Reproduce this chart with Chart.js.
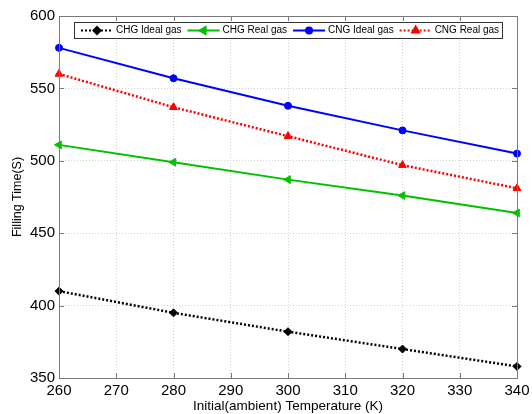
<!DOCTYPE html>
<html>
<head>
<meta charset="utf-8">
<script src="https://cdn.jsdelivr.net/npm/chart.js@4/dist/chart.umd.min.js"></script>
<style>
  html, body { margin: 0; padding: 0; background: #fff; }
  #wrap { width: 532px; height: 414px; }
</style>
</head>
<body>
<div id="wrap"><canvas id="chart" width="532" height="414"></canvas></div>
<script>
(function () {
  'use strict';

  var temps = [260, 280, 300, 320, 340];
  var chgIdeal = [410, 395, 382, 370, 358];
  var chgReal = [511, 499, 487, 476, 464];
  var cngIdeal = [578, 557, 538, 521, 505];
  var cngReal = [560, 537, 517, 497, 481];

  var FONT = 'Liberation Sans, Arial, sans-serif';

  function pts(vals) {
    return vals.map(function (v, i) { return { x: temps[i], y: v }; });
  }

  // boxed legend inside the plot + frame with inward ticks (matlab look)
  var matlabBox = {
    id: 'matlabBox',
    afterDraw: function (chart) {
      var ctx = chart.ctx, a = chart.chartArea;
      var xs = chart.scales.x, ys = chart.scales.y;
      ctx.save();
      ctx.strokeStyle = '#7a7a7a';
      ctx.lineWidth = 1;
      ctx.strokeRect(a.left + 0.5, a.top + 0.5, a.right - a.left, a.bottom - a.top);
      ctx.beginPath();
      xs.ticks.forEach(function (t) {
        var px = Math.round(xs.getPixelForValue(t.value)) + 0.5;
        ctx.moveTo(px, a.bottom); ctx.lineTo(px, a.bottom - 5);
        ctx.moveTo(px, a.top); ctx.lineTo(px, a.top + 5);
      });
      ys.ticks.forEach(function (t) {
        var py = Math.round(ys.getPixelForValue(t.value)) + 0.5;
        ctx.moveTo(a.left, py); ctx.lineTo(a.left + 5, py);
        ctx.moveTo(a.right, py); ctx.lineTo(a.right - 5, py);
      });
      ctx.stroke();

      // legend
      ctx.font = '10px ' + FONT;
      var sets = chart.data.datasets;
      var lineLen = 32, gap = 3, padL = 7, padR = 3, sep = 6;
      var total = padL + padR;
      sets.forEach(function (d, i) {
        total += lineLen + gap + ctx.measureText(d.label).width + (i < sets.length - 1 ? sep : 0);
      });
      total = Math.round(total);
      var bx = Math.round((a.left + a.right) / 2 - total / 2);
      var by = a.top + 6, bh = 16;
      ctx.fillStyle = '#fff';
      ctx.fillRect(bx, by, total, bh);
      ctx.strokeStyle = '#333';
      ctx.strokeRect(bx + 0.5, by + 0.5, total, bh);
      var x = bx + padL, cy = by + bh / 2 + 0.5;
      sets.forEach(function (d) {
        ctx.save();
        ctx.strokeStyle = d.borderColor;
        ctx.lineWidth = d.borderDash ? 2 : d.borderWidth;
        ctx.setLineDash(d.borderDash || []);
        ctx.beginPath();
        ctx.moveTo(x, cy); ctx.lineTo(x + lineLen, cy);
        ctx.stroke();
        ctx.setLineDash([]);
        ctx.fillStyle = d.pointBackgroundColor;
        Chart.helpers.drawPoint(ctx, {
          pointStyle: d.pointStyle,
          radius: d.pointRadius - 0.5,
          rotation: d.pointRotation || 0,
          borderWidth: 1
        }, x + lineLen / 2, cy);
        ctx.restore();
        x += lineLen + gap;
        ctx.fillStyle = '#000';
        ctx.textBaseline = 'middle';
        ctx.fillText(d.label, x, cy);
        x += ctx.measureText(d.label).width + sep;
      });
      ctx.restore();
    }
  };

  var radii = { rectRot: 4, triangle: 4.5, circle: 3.5 };

  function series(label, vals, color, style, dash, rot) {
    return {
      label: label,
      data: pts(vals),
      borderColor: color,
      backgroundColor: color,
      pointBackgroundColor: color,
      pointBorderColor: color,
      borderWidth: dash ? 2.5 : 2,
      borderDash: dash,
      pointStyle: style,
      pointRotation: rot || 0,
      pointRadius: radii[style],
      pointBorderWidth: 1,
      tension: 0
    };
  }

  new Chart(document.getElementById('chart').getContext('2d'), {
    type: 'line',
    data: {
      datasets: [
        series('CHG Ideal gas', chgIdeal, '#000000', 'rectRot', [2, 2]),
        series('CHG Real gas', chgReal, '#00c000', 'triangle', undefined, -90),
        series('CNG Ideal gas', cngIdeal, '#0000ff', 'circle'),
        series('CNG Real gas', cngReal, '#ff0000', 'triangle', [2, 2])
      ]
    },
    options: {
      responsive: false,
      animation: false,
      clip: false,
      layout: { padding: { top: 16, right: 15, left: 0, bottom: 0 } },
      plugins: { legend: { display: false }, tooltip: { enabled: false } },
      scales: {
        x: {
          type: 'linear',
          min: 260, max: 340,
          afterFit: function (s) { s.height = 36; s.paddingLeft = 0; s.paddingRight = 0; },
          border: { display: false, dash: [1, 2] },
          grid: { color: '#d4d4d4', drawTicks: false, lineWidth: 1 },
          ticks: { stepSize: 10, padding: 4, color: '#000', font: { family: FONT, size: 15 } },
          title: { display: true, text: 'Initial(ambient) Temperature (K)', color: '#000', padding: 0, font: { family: FONT, size: 13.5 } }
        },
        y: {
          min: 350, max: 600,
          afterFit: function (s) { s.width = 59; s.paddingTop = 0; s.paddingBottom = 0; },
          border: { display: false, dash: [1, 2] },
          grid: { color: '#d4d4d4', drawTicks: false, lineWidth: 1 },
          ticks: { stepSize: 50, padding: 4, color: '#000', font: { family: FONT, size: 15 } },
          title: { display: true, text: 'Filling Time(S)', color: '#000', padding: { top: 10, bottom: 0 }, font: { family: FONT, size: 12.5 } }
        }
      }
    },
    plugins: [matlabBox]
  });
})();
</script>
</body>
</html>
